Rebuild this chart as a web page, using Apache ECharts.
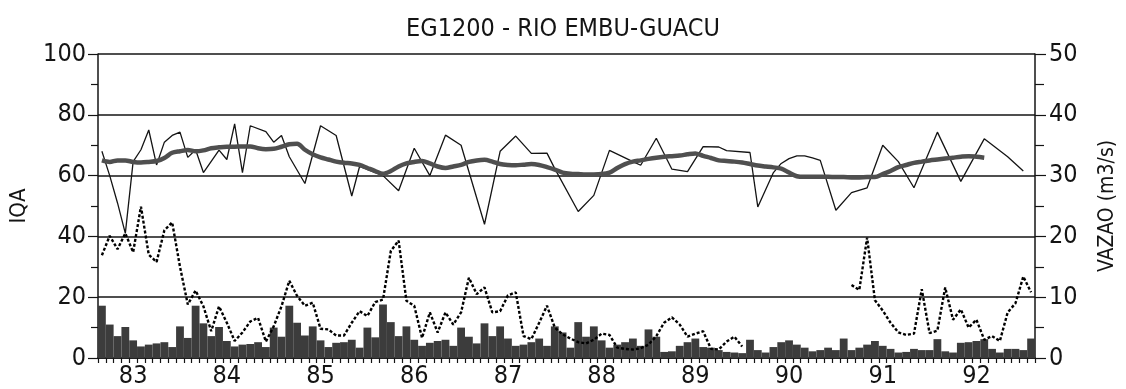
<!DOCTYPE html>
<html>
<head>
<meta charset="utf-8">
<script src="https://cdn.jsdelivr.net/npm/echarts@6/dist/echarts.min.js"></script>
<style>
html,body{margin:0;padding:0;background:#fff;}
#chart{width:1126px;height:389px;}
</style>
</head>
<body>
<div id="chart"></div>
<script>
// ---- data (monthly, Sep 1982 .. Aug 1992) ----
var START_YEAR = 1982, START_MONTH = 9, N_MONTHS = 120;
var YEAR_LABELS = ['83','84','85','86','87','88','89','90','91','92'];

// IQA (thin line), monthly samples, null = no sample
var IQA = [
  68, 60, 51, 41, 64.6, 68.5, 75, 63.5, 71, 73.2, 74.3, 66,
  68.5, 61, null, 68.4, 65.3, 77, 61, 76.4, null, 74.5, 71, 73.2,
  66.2, null, 57.4, null, 76.4, null, 73.2, null, 53.3, 63, null, null,
  60, null, 55, null, 69, null, 60, null, 73.3, null, 70, null,
  null, 44, null, 68, null, 73, null, 67.3, null, 67.4, 62.3, null,
  null, 48.2, null, 53.5, null, 68.3, null, null, 64.6, 63.4, null, 72.3,
  null, 62.1, null, 61.3, null, 69.5, null, 69.4, 68.2, null, null, 67.6,
  49.7, null, 61, 64, 65.6, 66.5, 66.5, 65.8, 65, null, 48.6, null,
  54.4, null, 56, null, 70, null, 64.6, null, 56, null, null, 74.3,
  null, null, 58.1, null, null, 72.1, null, null, 66.2, null, 61.5, null
];

// IQA moving average (thick line)
var IQA_MEDIA = [
  65, 64.5, 65, 65, 64.5, 64.3, 64.5, 64.8, 65.8, 67.5, 68, 68.4,
  68, 68.3, 69, 69.3, 69.5, 69.5, 69.6, 69.6, 69, 68.7, 68.8, 69.5,
  70.3, 70.5, 68.5, 67, 66, 65.3, 64.6, 64.2, 64, 63.5, 62.5, 61.5,
  60.6, 61.5, 63, 64, 64.5, 64.8, 64, 63, 62.5, 63, 63.5, 64.5,
  65, 65.2, 64.6, 63.8, 63.5, 63.4, 63.6, 63.8, 63.5, 62.8, 62, 61,
  60.6, 60.5, 60.4, 60.4, 60.5, 61, 62.5, 63.8, 64.6, 65, 65.5, 65.9,
  66.2, 66.4, 66.6, 67, 67.3, 66.5, 65.8, 65, 64.8, 64.6, 64.3, 63.8,
  63.3, 63, 62.7, 62.3, 61, 59.8, 59.6, 59.6, 59.6, 59.6, 59.5, 59.5,
  59.4, 59.4, 59.5, 59.5, 60.5, 61.5, 62.8, 63.5, 64.2, 64.6, 65, 65.3,
  65.6, 65.9, 66.2, 66.4, 66.2, 65.9, null, null, null, null, null, null
];

// dotted line (m3/s)
var VAZAO_LINHA = [
  16.9, 20.1, 17.9, 20.5, 17.4, 24.9, 17, 15.8, 21, 22.3, 15, 8.8,
  11.1, 8.5, 4.4, 8.5, 5.8, 2.8, 4.2, 6, 6.6, 2.7, 5.2, 8.5,
  12.7, 10.2, 8.6, 9.1, 4.8, 4.7, 3.7, 3.7, 5.8, 7.7, 6.9, 9.2,
  9.6, 17.6, 19.3, 9.4, 8.6, 3.3, 7.5, 4.2, 7.5, 5.5, 7.5, 13.2,
  10.5, 11.6, 7.5, 7.7, 10.3, 10.8, 3.6, 3.1, 5.8, 8.6, 5, 3.9,
  3.2, 2.6, 2.4, 3, 4, 3.8, 1.7, 1.5, 1.4, 1.6, 2.2, 3.6,
  5.8, 6.7, 5.5, 3.5, 4, 4.4, 1.5, 1.4, 2.7, 3.5, 1.9, null,
  null, null, null, null, null, null, null, null, null, null, null, null,
  12, 11.2, 19.8, 9.5, 7.8, 5.8, 4.2, 3.8, 4, 11.3, 4.1, 4.5,
  11.6, 6.3, 8, 5, 6.3, 3, 3.6, 2.8, 7.5, 9, 13.4, 10.8
];

// monthly flow bars (m3/s)
var VAZAO_BARRAS = [
  8.6, 5.5, 3.6, 5.1, 2.9, 1.9, 2.2, 2.4, 2.6, 1.8, 5.2, 3.3,
  8.6, 5.7, 3.6, 5.1, 2.8, 1.9, 2.2, 2.3, 2.6, 1.8, 5, 3.5,
  8.6, 5.8, 3.7, 5.2, 2.9, 1.8, 2.5, 2.6, 3, 1.7, 5, 3.4,
  8.8, 5.9, 3.6, 5.2, 3, 2, 2.5, 2.8, 3, 2, 5, 3.5,
  2.4, 5.7, 3.6, 5.2, 3.2, 2, 2.2, 2.6, 3.2, 2, 5.2, 4.2,
  1.7, 5.9, 3.5, 5.2, 2.9, 1.7, 2.2, 2.6, 3.2, 2, 4.7, 3.5,
  1, 1.1, 2, 2.6, 3.2, 1.8, 1.7, 1.3, 1, 0.9, 0.8, 3,
  1.3, 0.9, 1.8, 2.6, 2.9, 2.2, 1.7, 1.1, 1.3, 1.7, 1.3, 3.2,
  1.3, 1.7, 2.2, 2.8, 2, 1.5, 0.9, 1, 1.5, 1.3, 1.3, 3.1,
  1.1, 0.9, 2.5, 2.6, 2.8, 3.1, 1.5, 0.9, 1.5, 1.5, 1.3, 3.2
];

// ---- categories (one per month) ----
var MONTHS = [];
(function(){
  var y = START_YEAR, m = START_MONTH;
  for (var k = 0; k < N_MONTHS; k++) {
    MONTHS.push(y + '-' + (m < 10 ? '0' + m : '' + m));
    m++; if (m > 12) { m = 1; y++; }
  }
})();
function yearLabel(cat){
  var y = cat.slice(2,4);
  return YEAR_LABELS.indexOf(y) >= 0 ? y : '';
}

var FONT = "'Liberation Sans Narrow','DejaVu Sans Condensed','Liberation Sans',sans-serif";
var INK = '#141414';

var chart = echarts.init(document.getElementById('chart'), null, {renderer:'canvas'});
chart.setOption({
  animation: false,
  backgroundColor: '#ffffff',
  title: {
    text: 'EG1200 - RIO EMBU-GUACU',
    left: 'center', top: 12,
    textStyle: {fontFamily: FONT, fontSize: 25, fontWeight: 'normal', color: INK}
  },
  grid: {left: 97, right: 73, top: 54, bottom: 30},
  xAxis: {
    type: 'category',
    data: MONTHS,
    boundaryGap: true,
    axisLine: {show: true, lineStyle: {color: INK, width: 1.5}},
    axisTick: {show: true, interval: 0, length: 5, lineStyle: {color: INK, width: 1.2}},
    axisLabel: {
      interval: function(idx, val){ return val.slice(5) === '01'; },
      formatter: function(val){ return yearLabel(val); },
      fontFamily: FONT, fontSize: 25, color: INK, margin: 6
    },
    splitLine: {show: false}
  },
  yAxis: [
    {
      type: 'value', min: 0, max: 100, interval: 20,
      name: 'IQA', nameLocation: 'middle', nameRotate: 90, nameGap: 68,
      nameTextStyle: {fontFamily: FONT, fontSize: 22, color: INK},
      axisLine: {show: true, lineStyle: {color: INK, width: 1.5}},
      axisTick: {show: true, inside: false, length: 10, lineStyle: {color: INK, width: 1.2}},
      minorTick: {show: true, splitNumber: 2, length: 7, lineStyle: {color: INK, width: 1.2}},
      axisLabel: {fontFamily: FONT, fontSize: 25, color: INK, margin: 12},
      splitLine: {show: true, lineStyle: {color: INK, width: 1.6}}
    },
    {
      type: 'value', min: 0, max: 50, interval: 10, position: 'right',
      name: 'VAZAO (m3/s)', nameLocation: 'middle', nameRotate: 90, nameGap: 62,
      nameTextStyle: {fontFamily: FONT, fontSize: 21, color: INK},
      axisLine: {show: true, lineStyle: {color: INK, width: 1.5}},
      axisTick: {show: true, inside: false, length: 11, lineStyle: {color: INK, width: 1.2}},
      minorTick: {show: true, splitNumber: 2, length: 9, lineStyle: {color: INK, width: 1.2}},
      axisLabel: {fontFamily: FONT, fontSize: 25, color: INK, margin: 14},
      splitLine: {show: false}
    }
  ],
  series: [
    {
      name: 'Vazao mensal', type: 'bar', yAxisIndex: 1, data: VAZAO_BARRAS,
      barWidth: '100%', barCategoryGap: '0%',
      itemStyle: {color: '#3c3c3c'},
      z: 2
    },
    {
      name: 'Vazao', type: 'line', yAxisIndex: 1, data: VAZAO_LINHA,
      symbol: 'none', connectNulls: false,
      lineStyle: {color: '#000000', width: 2.4, type: [3, 2]},
      z: 3
    },
    {
      name: 'IQA', type: 'line', yAxisIndex: 0, data: IQA,
      symbol: 'none', connectNulls: true,
      lineStyle: {color: INK, width: 1.3},
      z: 4
    },
    {
      name: 'Media IQA', type: 'line', yAxisIndex: 0, data: IQA_MEDIA,
      symbol: 'none', smooth: 0.3,
      lineStyle: {color: '#4f4f4f', width: 4.5},
      z: 5
    }
  ]
});
</script>
</body>
</html>
